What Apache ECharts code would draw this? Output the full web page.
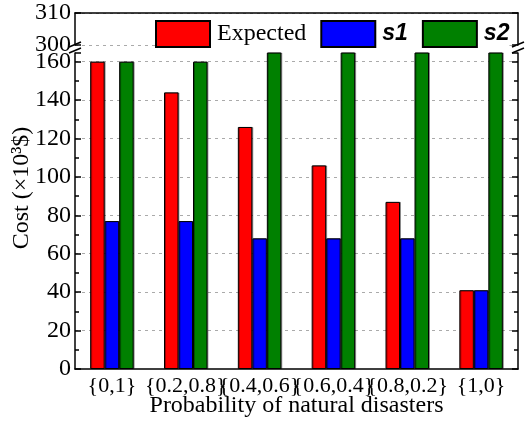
<!DOCTYPE html>
<html>
<head>
<meta charset="utf-8">
<script src="https://cdn.jsdelivr.net/npm/echarts@6/dist/echarts.min.js"></script>
<style>html,body{margin:0;padding:0;background:#fff}#c{width:525px;height:421px}</style>
</head>
<body>
<div id="c"></div>
<script>
var categories = ['{0,1}', '{0.2,0.8}', '{0.4,0.6}', '{0.6,0.4}', '{0.8,0.2}', '{1,0}'];
var expected = [160, 144, 126, 106, 87, 41];
var s1 = [77, 77, 68, 68, 68, 41];
var s2 = [160, 160, 165, 165, 165, 165];
var upperTicks = [300, 310];
var lowerMax = 164.5;

var serif = 'Liberation Serif';
var chart = echarts.init(document.getElementById('c'));
var axisLineStyle = {color: '#000', width: 1.5};
var dashed = {show: true, lineStyle: {color: '#aaa', type: [3, 4], width: 1}};
var L = 75, R = 7;

var barStyle = function (c) {
  return {color: c, borderColor: '#000', borderWidth: 1, shadowColor: 'rgba(0,0,0,0.35)', shadowOffsetX: 1, shadowOffsetY: 0, shadowBlur: 0};
};

chart.setOption({
  animation: false,
  grid: [
    {left: L, right: R, top: 13, height: 32, containLabel: false, outerBoundsMode: 'none'},
    {left: L, right: R, top: 53, bottom: 52, containLabel: false, outerBoundsMode: 'none'}
  ],
  xAxis: [
    {gridIndex: 0, type: 'category', data: categories, position: 'top',
      axisLine: {show: true, lineStyle: axisLineStyle}, axisTick: {show: false}, axisLabel: {show: false}},
    {gridIndex: 1, type: 'category', data: categories, position: 'bottom',
      axisLine: {show: true, lineStyle: axisLineStyle}, axisTick: {show: false},
      axisLabel: {interval: 0, fontFamily: serif, fontSize: 22, color: '#000', margin: 6},
      name: 'Probability of natural disasters', nameLocation: 'middle', nameGap: 25, nameMoveOverlap: false,
      nameTextStyle: {fontFamily: serif, fontSize: 24, color: '#000'}}
  ],
  yAxis: [
    {gridIndex: 0, type: 'value', min: upperTicks[0], max: upperTicks[1], interval: 10,
      axisLine: {show: true, lineStyle: axisLineStyle},
      axisTick: {show: true, inside: true, length: 6, lineStyle: {color: '#000', width: 1.5}},
      axisLabel: {fontFamily: serif, fontSize: 24, color: '#000', margin: 4},
      splitLine: dashed},
    {gridIndex: 0, type: 'value', position: 'right', min: upperTicks[0], max: upperTicks[1], interval: 10,
      axisLine: {show: true, lineStyle: axisLineStyle},
      axisTick: {show: true, inside: true, length: 6, lineStyle: {color: '#000', width: 1.5}},
      axisLabel: {show: false}, splitLine: {show: false}},
    {gridIndex: 1, type: 'value', min: 0, max: lowerMax, interval: 20,
      axisLine: {show: true, lineStyle: axisLineStyle},
      axisTick: {show: true, inside: true, length: 6, lineStyle: {color: '#000', width: 1.5}},
      minorTick: {show: true, splitNumber: 2, length: 4, lineStyle: {color: '#000', width: 1.5}},
      axisLabel: {fontFamily: serif, fontSize: 24, color: '#000', margin: 4, showMaxLabel: false},
      splitLine: {show: true, showMaxLine: false, showMinLine: false, lineStyle: {color: '#aaa', type: [3, 4], width: 1}}},
    {gridIndex: 1, type: 'value', position: 'right', min: 0, max: lowerMax, interval: 20,
      axisLine: {show: true, lineStyle: axisLineStyle},
      axisTick: {show: true, inside: true, length: 6, lineStyle: {color: '#000', width: 1.5}},
      minorTick: {show: true, splitNumber: 2, length: 4, lineStyle: {color: '#000', width: 1.5}},
      axisLabel: {show: false}, splitLine: {show: false}}
  ],
  legend: {
    left: 155, top: 20, itemWidth: 54, itemHeight: 26, itemGap: 14, padding: 0,
    backgroundColor: '#fff', z: 10,
    icon: 'rect',
    data: ['Expected', 's1', 's2'],
    formatter: function (n) { return n === 'Expected' ? '{e|' + n + '}' : '{b|' + n + '}'; },
    textStyle: {
      rich: {
        e: {fontFamily: serif, fontSize: 24, color: '#000', padding: [0, 0, 0, 2]},
        b: {fontFamily: 'Liberation Sans', fontSize: 23, fontWeight: 'bold', fontStyle: 'italic', color: '#000', padding: [0, 0, 0, 2]}
      }
    }
  },
  series: [
    {name: 'Expected', type: 'bar', xAxisIndex: 1, yAxisIndex: 2, data: expected, barWidth: 14.5, barGap: '0%', itemStyle: barStyle('#ff0000')},
    {name: 's1', type: 'bar', xAxisIndex: 1, yAxisIndex: 2, data: s1, barWidth: 14.5, barGap: '0%', itemStyle: barStyle('#0000ff')},
    {name: 's2', type: 'bar', xAxisIndex: 1, yAxisIndex: 2, data: s2, barWidth: 14.5, barGap: '0%', itemStyle: barStyle('#008000')}
  ],
  graphic: [
    {type: 'text', x: 22, y: 188, rotation: Math.PI / 2, style: {text: 'Cost (×10³$)', font: '24px "Liberation Serif"', fill: '#000', align: 'center', verticalAlign: 'middle'}},
    {type: 'line', shape: {x1: 69, y1: 47, x2: 81, y2: 42}, style: {stroke: '#000', lineWidth: 1.5}},
    {type: 'line', shape: {x1: 69, y1: 53, x2: 81, y2: 48}, style: {stroke: '#000', lineWidth: 1.5}},
    {type: 'line', shape: {x1: 512, y1: 47, x2: 524, y2: 42}, style: {stroke: '#000', lineWidth: 1.5}},
    {type: 'line', shape: {x1: 512, y1: 53, x2: 524, y2: 48}, style: {stroke: '#000', lineWidth: 1.5}}
  ]
});
</script>
</body>
</html>
